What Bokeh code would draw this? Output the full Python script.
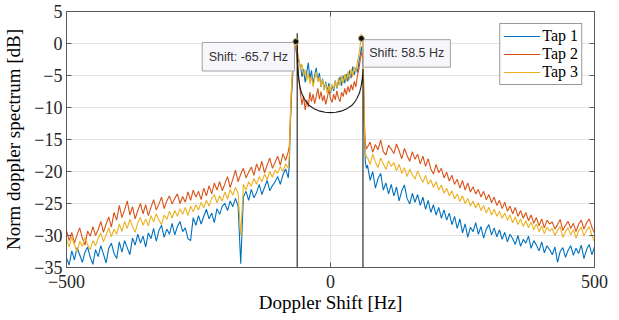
import numpy as np
from bokeh.plotting import figure
from bokeh.models import Range1d, LinearAxis, FixedTicker, Legend, LegendItem
from bokeh.embed import file_html
from bokeh.resources import INLINE
from bokeh.core.properties import value

# ---------------- data ----------------
f_left = list(range(-500, -79, 5))          # 85 points
f_edge_left = [-78, -76, -74, -72, -70, -68, -65.7]
f_mid = list(range(-63, 58, 3))             # 41 points
f_edge_right = [58.5, 60, 62, 64, 66, 68]
f_right = list(range(70, 501, 5))           # 87 points
freq = f_left + f_edge_left + f_mid + f_edge_right + f_right

tap1 = [
    -33.5, -34.6, -32.4, -33.8, -31.9, -33.0, -34.2, -32.6, -31.8, -33.4,
    -34.5, -32.2, -33.3, -31.6, -32.9, -34.3, -32.0, -31.2, -32.8, -33.6,
    -31.0, -32.6, -30.8, -31.9, -33.0, -30.4, -31.5, -29.8, -31.2, -30.1,
    -31.8, -29.6, -30.5, -28.9, -30.9, -29.2, -28.4, -30.3, -29.0, -29.8,
    -28.1, -29.9, -28.6, -27.8, -29.4, -28.8, -30.5, -30.8, -27.2, -28.4,
    -26.9, -28.2, -27.0, -25.9, -27.4, -26.5, -28.0, -25.8, -26.7, -25.4,
    -25.0, -26.1, -24.6, -25.5, -24.2, -25.4, -34.4, -24.0, -23.1, -24.5,
    -22.8, -24.1, -23.3, -22.0, -23.6, -22.5, -21.4, -23.0, -22.2, -21.6,
    -20.8, -22.0, -20.5, -19.6, -21.0,
    -19.0, -12.5, -8.5, -5.5, -3.0, -1.5, 0.3,
    -1.5, -2.8, -3.5, -5.2, -4.0, -6.1, -4.5, -3.0, -5.6, -4.2,
    -6.4, -5.0, -3.8, -5.9, -4.6, -6.8, -5.5, -7.2, -6.0, -7.5,
    -6.2, -7.8, -6.5, -7.4, -5.8, -7.0, -6.1, -5.2, -6.6, -5.0,
    -6.2, -4.8, -5.9, -4.2, -5.4, -3.6, -4.9, -3.8, -4.5, -2.8, -1.5,
    -0.5, -1.0, -4.0, -14.0, -18.5, -19.5,
    -19.0, -21.4, -20.0, -22.6, -21.1, -20.3, -22.9, -21.8, -23.5, -22.0,
    -23.8, -22.4, -24.6, -23.0, -22.1, -24.2, -25.1, -23.4, -24.8, -23.6,
    -25.3, -24.0, -25.9, -24.5, -26.4, -25.2, -26.8, -25.6, -27.3, -26.0,
    -27.6, -26.5, -28.3, -27.0, -28.9, -27.4, -29.6, -28.2, -30.3, -28.7,
    -29.4, -28.0, -29.8, -28.6, -30.4, -29.0, -28.3, -29.9, -28.8, -30.2,
    -29.1, -30.6, -29.5, -31.0, -29.8, -30.5, -31.4, -30.0, -31.7, -30.6,
    -31.2, -30.1, -32.0, -30.8, -31.5, -32.4, -31.0, -32.7, -31.6, -32.2,
    -33.0, -31.8, -34.2, -32.5, -31.9, -33.4, -32.3, -31.6, -33.1, -32.0,
    -32.8, -31.5, -33.6, -32.2, -31.4, -33.0, -31.8,
]

tap2 = [
    -29.2, -30.8, -29.5, -31.2, -29.9, -28.8, -30.4, -31.5, -29.3, -30.1,
    -28.6, -30.0, -29.1, -27.8, -29.5, -28.2, -27.1, -28.7, -26.4, -27.6,
    -25.3, -27.2, -26.0, -24.6, -26.8, -25.5, -27.4, -26.1, -25.0, -26.6,
    -25.2, -26.9, -25.6, -24.4, -26.0, -25.1, -24.0, -25.8, -24.6, -23.8,
    -25.1, -24.2, -23.5, -25.0, -23.9, -24.8, -23.2, -24.5, -22.9, -24.0,
    -23.1, -24.4, -22.6, -23.8, -22.2, -23.5, -21.8, -22.9, -21.6, -23.0,
    -21.9, -20.8, -22.5, -21.2, -19.8, -21.6, -20.4, -19.5, -21.0, -20.1,
    -19.3, -20.6, -18.8, -19.9, -18.4, -20.2, -19.0, -17.9, -19.5, -18.6,
    -17.6, -19.0, -17.2, -18.3, -16.9,
    -16.0, -12.0, -7.5, -4.5, -2.5, -1.0, 0.3,
    -3.0, -5.5, -7.8, -9.6, -8.2, -10.4, -8.8, -9.9, -7.6, -9.1,
    -7.9, -9.4, -8.3, -7.0, -8.7, -7.5, -9.0, -8.1, -9.5, -8.4,
    -7.2, -8.6, -9.2, -7.9, -8.8, -7.4, -8.5, -9.1, -7.6, -8.3,
    -7.0, -8.0, -6.7, -7.6, -6.4, -7.3, -5.9, -6.8, -5.0, -3.9, -2.2,
    -1.8, -1.2, -3.0, -12.0, -15.5, -16.5,
    -16.2, -15.4, -17.0, -15.8, -16.6, -15.1, -16.9, -17.4, -15.9, -16.5,
    -17.2, -15.7, -16.8, -18.0, -16.4, -17.5, -18.4, -16.9, -18.1, -17.3,
    -18.8, -17.6, -19.2, -18.0, -19.6, -20.4, -18.9, -20.2, -19.5, -21.0,
    -20.1, -21.5, -20.6, -22.0, -21.2, -22.6, -21.4, -22.9, -21.8, -23.2,
    -22.4, -23.5, -22.8, -24.0, -23.1, -24.4, -23.6, -24.9, -24.0, -25.3,
    -24.5, -25.8, -24.8, -26.2, -25.4, -26.6, -25.6, -27.0, -26.1, -27.3,
    -26.4, -27.7, -26.8, -28.1, -27.2, -28.5, -27.4, -28.8, -27.6, -28.2,
    -27.9, -29.0, -28.3, -27.5, -29.2, -28.4, -27.8, -28.9, -28.1, -29.4,
    -28.2, -27.6, -29.0, -28.0, -27.4, -28.7, -29.6,
]

tap3 = [
    -30.6, -31.8, -30.2, -31.4, -32.6, -30.9, -31.7, -30.3, -31.5, -32.2,
    -30.8, -31.6, -30.4, -29.6, -31.0, -29.9, -28.8, -30.2, -29.0, -29.8,
    -28.2, -29.4, -27.8, -28.9, -27.5, -28.6, -29.5, -28.0, -27.2, -28.4,
    -27.4, -28.5, -26.9, -27.9, -26.6, -27.6, -28.3, -26.8, -27.5, -26.2,
    -27.3, -26.1, -27.0, -25.8, -26.7, -25.6, -26.9, -25.4, -26.3, -25.2,
    -26.0, -24.8, -25.7, -24.5, -25.4, -24.2, -23.6, -24.9, -23.8, -24.6,
    -23.2, -24.3, -22.8, -23.7, -22.5, -23.4, -30.0, -22.0, -22.9, -21.6,
    -22.3, -21.1, -22.0, -20.8, -21.6, -20.4, -21.3, -20.0, -20.9, -19.8,
    -20.3, -19.2, -20.0, -18.8, -19.5,
    -17.5, -11.0, -7.0, -4.0, -2.0, -0.8, 0.3,
    -1.2, -2.4, -4.0, -3.2, -5.0, -4.1, -5.8, -4.6, -6.3, -5.1,
    -6.8, -5.5, -4.4, -6.0, -5.2, -6.7, -5.6, -7.3, -6.2, -7.8,
    -6.6, -7.6, -6.3, -7.1, -5.9, -6.9, -5.4, -6.6, -5.0, -6.2,
    -4.8, -5.9, -4.4, -5.6, -4.0, -5.2, -3.6, -4.5, -2.8, -1.6, 0.2,
    1.5, 0.5, -2.0, -13.0, -17.0, -17.8,
    -17.8, -18.9, -17.3, -18.5, -19.4, -17.9, -18.8, -19.7, -18.3, -19.2,
    -18.6, -19.9, -18.9, -20.3, -19.4, -20.8, -19.6, -20.5, -21.2, -19.9,
    -20.9, -21.7, -20.6, -22.0, -21.3, -22.5, -21.6, -22.9, -22.1, -23.4,
    -22.6, -23.8, -23.0, -24.3, -23.5, -24.7, -23.8, -25.0, -24.2, -25.4,
    -24.6, -25.7, -24.9, -26.1, -25.3, -26.5, -25.6, -26.8, -25.9, -27.0,
    -26.2, -27.3, -26.5, -27.6, -26.8, -28.0, -27.1, -28.3, -27.4, -28.6,
    -27.7, -28.8, -27.9, -29.1, -28.2, -29.4, -28.5, -29.7, -28.7, -29.3,
    -28.9, -30.0, -29.2, -28.6, -30.3, -29.4, -28.8, -29.9, -29.1, -30.4,
    -29.3, -28.7, -30.1, -29.2, -28.6, -30.0, -31.0,
]

# theoretical (Jakes-like) spectrum
jakes_f = [-63.1, -63.1, -62.5, -62, -61, -60, -58, -55, -50, -45, -40, -30, -20, -10,
           0, 10, 20, 30, 40, 45, 50, 55, 58, 60, 61, 61.5, 61.5]
jakes_db = [-40, 1.6, -1.8, -3.3, -4.8, -5.6, -6.7, -7.7, -8.6, -9.25, -9.7, -10.25, -10.57, -10.75,
            -10.8, -10.75, -10.57, -10.25, -9.7, -9.25, -8.6, -7.7, -6.7, -5.6, -4.8, -4.0, -40]

tip_f = [-65.7, 58.5]
tip_db = [0.3, 0.8]
tip_text = ["Shift: -65.7 Hz", "Shift: 58.5 Hz"]

x_ticks = [-500, 0, 500]
y_ticks = [-35, -30, -25, -20, -15, -10, -5, 0, 5]

series_names = ["Tap 1", "Tap 2", "Tap 3"]
series_colors = ["#0072BD", "#D95319", "#EDB120"]

# ---------------- figure ----------------
SERIF = "Liberation Serif"
AX = "#262626"
FRAME = "#5a5a5a"

p = figure(width=619, height=320, output_backend="svg", toolbar_location=None,
           x_range=Range1d(-500, 500), y_range=Range1d(-35, 5),
           min_border_left=66, min_border_right=25, min_border_top=11, min_border_bottom=53)
p.background_fill_color = "white"
p.outline_line_color = FRAME
p.outline_line_width = 1

for ax in (p.xaxis[0], p.yaxis[0]):
    ax.major_tick_in = 5
    ax.major_tick_out = 0
    ax.minor_tick_line_color = None
    ax.axis_line_color = FRAME
    ax.major_tick_line_color = FRAME
    ax.major_label_text_font = SERIF
    ax.major_label_text_font_size = "18px"
    ax.major_label_text_color = AX
    ax.axis_label_text_font = SERIF
    ax.axis_label_text_font_size = "19px"
    ax.axis_label_text_font_style = "normal"
    ax.axis_label_text_color = "black"

p.xaxis[0].ticker = FixedTicker(ticks=x_ticks)
p.yaxis[0].ticker = FixedTicker(ticks=y_ticks)
p.xaxis[0].axis_label = "Doppler Shift [Hz]"
p.yaxis[0].axis_label = "Norm doppler spectrum [dB]"
p.xaxis[0].major_label_standoff = 7
p.xaxis[0].axis_label_standoff = 1
p.yaxis[0].major_label_standoff = 4
p.yaxis[0].axis_label_standoff = 7

# top and right tick-only axes (labels hidden)
for loc, tk in (("above", x_ticks), ("right", y_ticks)):
    a = LinearAxis(ticker=FixedTicker(ticks=tk))
    a.major_tick_in = 5
    a.major_tick_out = 0
    a.minor_tick_line_color = None
    a.axis_line_color = FRAME
    a.major_tick_line_color = FRAME
    a.major_label_text_font_size = "0px"
    a.major_label_text_color = None
    a.major_label_standoff = 0
    p.add_layout(a, loc)

p.xgrid.ticker = FixedTicker(ticks=x_ticks)
p.ygrid.ticker = FixedTicker(ticks=y_ticks)
p.xgrid.grid_line_color = "#e3e3e3"
p.ygrid.grid_line_color = "#e3e3e3"

renderers = []
for name, ys, col in zip(series_names, [tap1, tap2, tap3], series_colors):
    r = p.line(freq, ys, line_color=col, line_width=1.1)
    renderers.append(r)

p.line(jakes_f, jakes_db, line_color="#1a1a1a", line_width=1.1)

# data tips
boxes = [(-243, -68.2, 0.16, -4.3), (62, 227, 0.6, -3.7)]
for (l, r_, t, b), txt in zip(boxes, tip_text):
    p.quad(left=[l], right=[r_], top=[t], bottom=[b], fill_color="#f7f7fb",
           line_color="#a3a3a3", line_width=1)
    p.text(x=[(l + r_) / 2], y=[(t + b) / 2], text=[txt], text_align="center",
           text_baseline="middle", text_font=value("Liberation Sans"),
           text_font_size="12.5px", text_color="#333333")
p.scatter(tip_f, tip_db, size=6, fill_color="#111111", line_color="#cfc08a", line_width=1)

legend = Legend(items=[LegendItem(label=n, renderers=[r]) for n, r in zip(series_names, renderers)],
                location="top_right", margin=12, padding=3, spacing=0,
                glyph_width=37, glyph_height=18, label_height=18, label_standoff=2,
                label_text_font=SERIF, label_text_font_size="16px", label_text_color="black",
                border_line_color="#333333", border_line_width=1,
                background_fill_color="white", background_fill_alpha=1)
p.add_layout(legend, "center")

open("out.html", "w").write(file_html(p, INLINE))
